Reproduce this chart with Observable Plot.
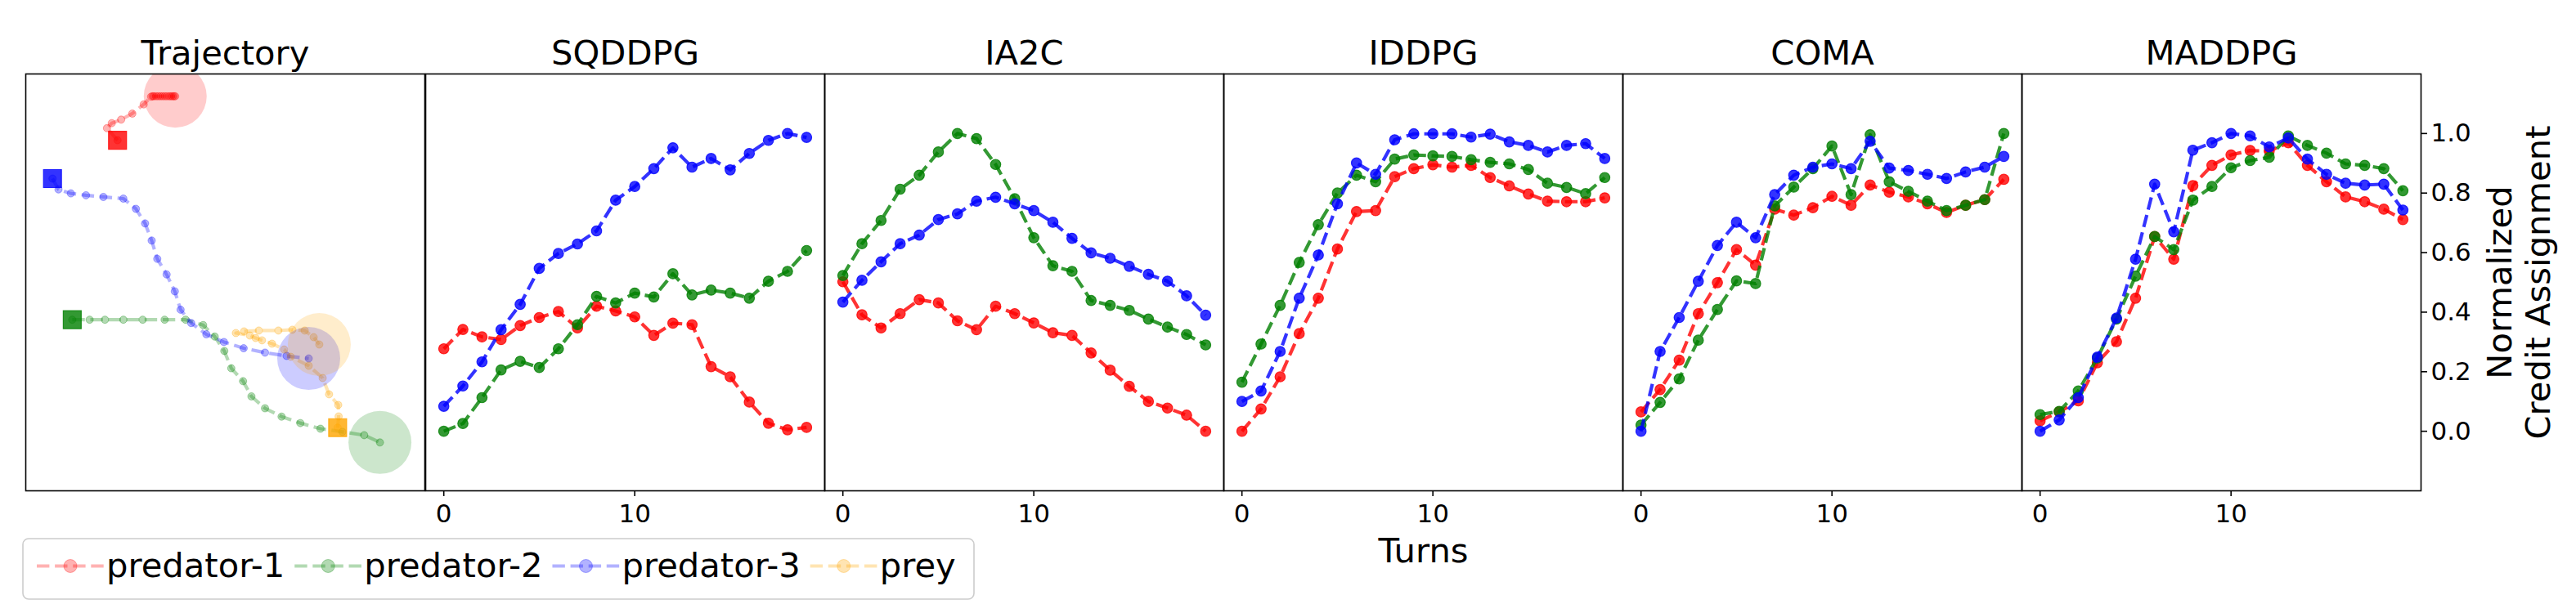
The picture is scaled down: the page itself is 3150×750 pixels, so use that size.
<!DOCTYPE html>
<html>
<head>
<meta charset="utf-8">
<script src="https://cdn.jsdelivr.net/npm/d3@7"></script>
<script src="https://cdn.jsdelivr.net/npm/@observablehq/plot@0.6"></script>
<style>
  html, body { margin: 0; padding: 0; background: #fff; }
  #root { position: relative; width: 3150px; height: 750px; overflow: hidden; font-family: "DejaVu Sans", sans-serif; background: #fff; }
</style>
</head>
<body>
<div id="root"></div>
<script>
// ---------------- DATA ----------------
const turns = [0,1,2,3,4,5,6,7,8,9,10,11,12,13,14,15,16,17,18,19];
const methods = ["SQDDPG", "IA2C", "IDDPG", "COMA", "MADDPG"];
const agentNames = ["predator-1", "predator-2", "predator-3", "prey"];
const xTicks = [0, 10];
const yTicks = [0.0, 0.2, 0.4, 0.6, 0.8, 1.0];
const xLabel = "Turns";
const yLabel = "Normalized\nCredit Assignment";
const trajTitle = "Trajectory";

// normalized credit assignment per turn
const sqddpg_p1 = [0.277,0.342,0.317,0.308,0.355,0.382,0.402,0.347,0.420,0.404,0.384,0.322,0.363,0.358,0.217,0.183,0.098,0.027,0.005,0.013];
const sqddpg_p2 = [0.000,0.026,0.113,0.206,0.235,0.214,0.277,0.358,0.453,0.431,0.464,0.451,0.529,0.458,0.474,0.464,0.447,0.504,0.537,0.607];
const sqddpg_p3 = [0.084,0.152,0.233,0.341,0.426,0.547,0.597,0.629,0.673,0.776,0.822,0.882,0.952,0.887,0.916,0.878,0.933,0.977,1.000,0.987];

const ia2c_p1 = [0.502,0.391,0.347,0.395,0.442,0.431,0.371,0.341,0.420,0.395,0.364,0.331,0.322,0.263,0.205,0.151,0.100,0.078,0.054,0.000];
const ia2c_p2 = [0.523,0.630,0.708,0.813,0.860,0.938,1.000,0.983,0.896,0.781,0.650,0.556,0.537,0.439,0.423,0.406,0.377,0.350,0.325,0.290];
const ia2c_p3 = [0.434,0.507,0.569,0.630,0.659,0.711,0.730,0.773,0.786,0.764,0.741,0.702,0.648,0.599,0.581,0.554,0.527,0.504,0.455,0.390];

const iddpg_p1 = [0.000,0.075,0.183,0.328,0.447,0.612,0.738,0.741,0.855,0.882,0.895,0.887,0.893,0.852,0.824,0.797,0.773,0.771,0.771,0.784];
const iddpg_p2 = [0.165,0.293,0.423,0.567,0.694,0.800,0.860,0.838,0.914,0.928,0.925,0.923,0.912,0.903,0.898,0.879,0.833,0.819,0.798,0.852];
const iddpg_p3 = [0.100,0.135,0.268,0.447,0.592,0.764,0.901,0.863,0.979,0.999,0.999,0.999,0.988,0.998,0.972,0.960,0.938,0.960,0.966,0.916];

const coma_p1 = [0.065,0.140,0.239,0.395,0.499,0.610,0.558,0.746,0.726,0.751,0.789,0.759,0.827,0.803,0.787,0.764,0.735,0.759,0.778,0.846];
const coma_p2 = [0.021,0.097,0.176,0.306,0.409,0.505,0.496,0.757,0.820,0.882,0.958,0.795,0.996,0.838,0.806,0.773,0.741,0.759,0.778,1.000];
const coma_p3 = [0.000,0.268,0.382,0.504,0.624,0.702,0.650,0.795,0.860,0.887,0.898,0.882,0.974,0.884,0.876,0.863,0.849,0.871,0.887,0.923];

const maddpg_p1 = [0.035,0.065,0.102,0.230,0.301,0.447,0.654,0.578,0.825,0.893,0.928,0.943,0.941,0.969,0.893,0.838,0.787,0.771,0.746,0.711];
const maddpg_p2 = [0.056,0.067,0.135,0.246,0.377,0.521,0.654,0.610,0.776,0.822,0.885,0.909,0.920,0.992,0.960,0.934,0.898,0.893,0.882,0.808];
const maddpg_p3 = [0.000,0.038,0.113,0.249,0.380,0.578,0.830,0.670,0.944,0.969,1.000,0.992,0.955,0.985,0.914,0.863,0.833,0.827,0.830,0.743];

// trajectories (environment coordinates, first point = start square, last point = final position circle)
const traj_p1_x = [-0.540,-0.593,-0.569,-0.522,-0.466,-0.409,-0.372,-0.365,-0.358,-0.347,-0.336,-0.325,-0.314,-0.303,-0.292,-0.281,-0.272,-0.264,-0.257,-0.251];
const traj_p1_y = [0.682,0.740,0.764,0.781,0.810,0.854,0.891,0.893,0.893,0.893,0.893,0.893,0.893,0.893,0.893,0.893,0.893,0.893,0.893,0.893];
const traj_p2_x = [-0.767,-0.680,-0.603,-0.511,-0.414,-0.304,-0.199,-0.111,-0.053,-0.005,0.030,0.089,0.131,0.199,0.282,0.376,0.477,0.587,0.696,0.775];
const traj_p2_y = [-0.179,-0.179,-0.179,-0.179,-0.179,-0.179,-0.179,-0.205,-0.260,-0.329,-0.412,-0.474,-0.547,-0.604,-0.644,-0.675,-0.702,-0.717,-0.733,-0.768];
const traj_p3_x = [-0.866,-0.836,-0.774,-0.698,-0.611,-0.511,-0.448,-0.402,-0.369,-0.341,-0.294,-0.253,-0.224,-0.171,-0.095,-0.007,0.092,0.199,0.307,0.418];
const traj_p3_y = [0.498,0.446,0.427,0.418,0.410,0.402,0.353,0.283,0.201,0.113,0.038,-0.043,-0.131,-0.195,-0.249,-0.286,-0.316,-0.337,-0.353,-0.365];
const traj_prey_x = [0.563,0.568,0.566,0.520,0.488,0.418,0.328,0.295,0.234,0.184,0.152,0.123,0.053,0.094,0.168,0.266,0.336,0.398,0.443,0.471];
const traj_prey_y = [-0.697,-0.643,-0.588,-0.537,-0.459,-0.400,-0.357,-0.322,-0.294,-0.278,-0.267,-0.255,-0.243,-0.235,-0.231,-0.231,-0.227,-0.231,-0.263,-0.298];

// ---------------- STYLE / LAYOUT ----------------
const AGENT_COLORS = {"predator-1": "#ff0000", "predator-2": "#008000", "predator-3": "#0000ff", "prey": "#ffa500"};
const FONT = "DejaVu Sans";
const TITLE_SIZE = 41.7, TICK_FONT = 31;
const DASH = "15.4,6.7";
const LW = 4.17;
const FIG_W = 3150, FIG_H = 750;
const PANEL_W = 488, PANEL_TOP = 90, PANEL_BOTTOM = 600;
const panelLeft = [30.5, 520, 1008, 1496, 1984, 2472];
const TITLE_BASELINE = 78, XLABEL_BASELINE = 687, YLABEL_BASELINE = 3117;

const credit = {
  SQDDPG: [sqddpg_p1, sqddpg_p2, sqddpg_p3],
  IA2C: [ia2c_p1, ia2c_p2, ia2c_p3],
  IDDPG: [iddpg_p1, iddpg_p2, iddpg_p3],
  COMA: [coma_p1, coma_p2, coma_p3],
  MADDPG: [maddpg_p1, maddpg_p2, maddpg_p3]
};
const trajectories = [[traj_p1_x, traj_p1_y], [traj_p2_x, traj_p2_y], [traj_p3_x, traj_p3_y], [traj_prey_x, traj_prey_y]];

const root = document.getElementById("root");
const baseStyle = {fontFamily: FONT, fontSize: TICK_FONT + "px", background: "transparent", overflow: "visible", color: "black"};

function place(svg, left) {
  svg.style.position = "absolute";
  svg.style.left = left + "px";
  svg.style.top = "0px";
  svg.style.maxWidth = "none";
  root.appendChild(svg);
}
function titleMark(name) {
  return Plot.text([name], {text: d => d, frameAnchor: "top", lineAnchor: "bottom", textAnchor: "middle",
    dy: TITLE_BASELINE - PANEL_TOP, fontSize: TITLE_SIZE, fill: "black"});
}

// ---------------- TRAJECTORY PANEL ----------------
{
  const ml = 10, mr = 10;
  const marks = [];
  const agents = agentNames.map((name, k) => ({
    name,
    pts: trajectories[k][0].map((x, i) => ({x, y: trajectories[k][1][i]}))
  }));
  for (const a of agents) {
    const c = AGENT_COLORS[a.name];
    marks.push(Plot.line(a.pts, {x: "x", y: "y", stroke: c, strokeOpacity: 0.3, strokeWidth: LW,
      strokeDasharray: DASH, strokeLinecap: "butt"}));
    marks.push(Plot.dot(a.pts, {x: "x", y: "y", r: 4.5, fill: c, fillOpacity: 0.3, stroke: c, strokeOpacity: 0.3, strokeWidth: 1}));
    marks.push(Plot.dot(a.pts.slice(0, 1), {x: "x", y: "y", symbol: "square", r: 12.4, fill: c, fillOpacity: 0.8,
      stroke: c, strokeOpacity: 0.8, strokeWidth: 1.2}));
  }
  for (const a of agents) {
    const c = AGENT_COLORS[a.name];
    marks.push(Plot.dot(a.pts.slice(-1), {x: "x", y: "y", r: 38.5, fill: c, fillOpacity: 0.2, stroke: "none", clip: true}));
  }
  marks.push(Plot.frame({stroke: "black", strokeWidth: 1.6}));
  marks.push(titleMark(trajTitle));
  const svg = Plot.plot({
    width: ml + PANEL_W + mr, height: FIG_H,
    marginLeft: ml, marginRight: mr, marginTop: PANEL_TOP, marginBottom: FIG_H - PANEL_BOTTOM,
    x: {domain: [-1, 1], axis: null},
    y: {domain: [-1, 1], axis: null},
    style: baseStyle,
    marks
  });
  place(svg, panelLeft[0] - ml);
}

// ---------------- CREDIT PANELS ----------------
methods.forEach((m, j) => {
  const left = panelLeft[j + 1];
  const isLast = j === methods.length - 1;
  const ml = 10;
  const mr = isLast ? FIG_W - (left + PANEL_W) : 10;
  const marks = [];
  credit[m].forEach((vals, k) => {
    const c = AGENT_COLORS[agentNames[k]];
    const data = turns.map((t, i) => ({t, v: vals[i]}));
    marks.push(Plot.line(data, {x: "t", y: "v", stroke: c, strokeOpacity: 0.8, strokeWidth: LW,
      strokeDasharray: DASH, strokeLinecap: "butt"}));
    marks.push(Plot.dot(data, {x: "t", y: "v", r: 6.25, fill: c, fillOpacity: 0.8, stroke: c, strokeOpacity: 0.8, strokeWidth: 1.2}));
  });
  marks.push(Plot.axisX({ticks: xTicks, tickFormat: d => String(d), tickSize: 7, tickPadding: 9, strokeWidth: 1.6,
    label: null, fontSize: TICK_FONT}));
  if (isLast) {
    marks.push(Plot.axisY({anchor: "right", ticks: yTicks, tickFormat: d => d.toFixed(1), tickSize: 7, tickPadding: 5,
      strokeWidth: 1.6, label: null, fontSize: TICK_FONT}));
    marks.push(Plot.text([yLabel], {text: d => d, frameAnchor: "right", rotate: -90, textAnchor: "middle",
      lineAnchor: "bottom", lineHeight: 1.12, dx: YLABEL_BASELINE - (left + PANEL_W), fontSize: TITLE_SIZE, fill: "black"}));
  }
  if (m === "IDDPG") {
    marks.push(Plot.text([xLabel], {text: d => d, frameAnchor: "bottom", lineAnchor: "bottom", textAnchor: "middle",
      dy: XLABEL_BASELINE - PANEL_BOTTOM, fontSize: TITLE_SIZE, fill: "black"}));
  }
  marks.push(Plot.frame({stroke: "black", strokeWidth: 1.6}));
  marks.push(titleMark(m));
  const svg = Plot.plot({
    width: ml + PANEL_W + mr, height: FIG_H,
    marginLeft: ml, marginRight: mr, marginTop: PANEL_TOP, marginBottom: FIG_H - PANEL_BOTTOM,
    x: {domain: [-0.95, 19.95]},
    y: isLast ? {domain: [-0.2, 1.2]} : {domain: [-0.2, 1.2], axis: null},
    style: baseStyle,
    marks
  });
  place(svg, left - ml);
});

// ---------------- LEGEND ----------------
{
  const boxLeft = 27, boxTop = 658, boxW = 1163, boxH = 74;
  const leg = d3.create("svg")
    .attr("width", boxW + 4).attr("height", boxH + 4)
    .style("position", "absolute").style("left", boxLeft + "px").style("top", boxTop + "px")
    .style("font-family", FONT).style("overflow", "visible");
  leg.append("rect").attr("x", 1).attr("y", 1).attr("width", boxW).attr("height", boxH)
    .attr("rx", 7).attr("fill", "white").attr("stroke", "#cccccc").attr("stroke-width", 1.6);
  root.appendChild(leg.node());
  const handleY = 34.5, textY = 47.5, handleLen = 82;
  let x = 18;
  agentNames.forEach(name => {
    const c = AGENT_COLORS[name];
    leg.append("line").attr("x1", x).attr("x2", x + handleLen).attr("y1", handleY).attr("y2", handleY)
      .attr("stroke", c).attr("stroke-opacity", 0.3).attr("stroke-width", LW).attr("stroke-dasharray", DASH);
    leg.append("circle").attr("cx", x + handleLen / 2).attr("cy", handleY).attr("r", 8)
      .attr("fill", c).attr("fill-opacity", 0.3).attr("stroke", c).attr("stroke-opacity", 0.3);
    const t = leg.append("text").attr("x", x + handleLen + 3).attr("y", textY)
      .attr("font-size", TITLE_SIZE).attr("fill", "black").text(name);
    x += handleLen + 3 + t.node().getComputedTextLength() + 12;
  });
}
</script>
</body>
</html>
